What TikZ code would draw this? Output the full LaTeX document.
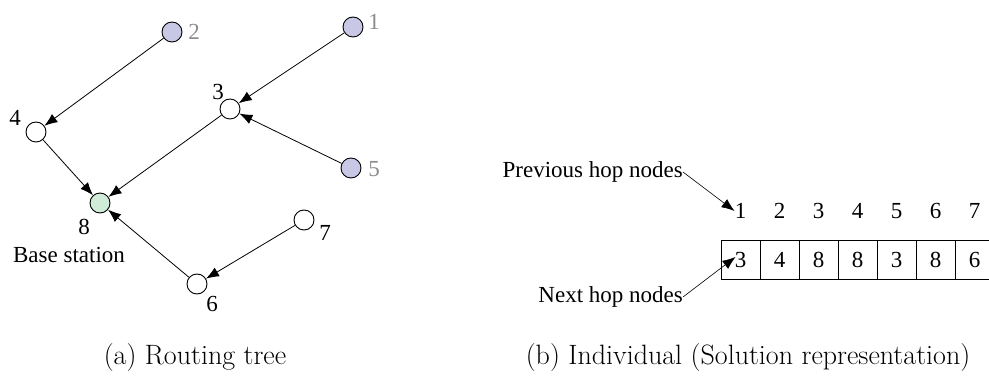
\documentclass[tikz,border=0pt]{standalone}
\usepackage{fontspec}
\setmainfont{Liberation Serif}
\newfontfamily\capfont{Latin Modern Roman}
\usetikzlibrary{arrows.meta}
\definecolor{lav}{RGB}{200,200,230}
\definecolor{mint}{RGB}{208,235,216}
\definecolor{lgray}{RGB}{140,140,140}
\begin{document}
\begin{tikzpicture}[x=1pt,y=-1pt,
  vert/.style={circle,draw,line width=0.9pt,minimum size=20pt,inner sep=0pt,fill=white},
  src/.style={vert,fill=lav},
  base/.style={vert,fill=mint},
  lab/.style={font=\fontsize{23}{25}\selectfont,inner sep=0pt},
  glab/.style={lab,text=lgray},
  txt/.style={font=\fontsize{23}{25}\selectfont,inner sep=0pt},
  arr/.style={line width=0.8pt,-{Latex[length=13pt,width=10pt]}},
  cell/.style={draw,line width=0.9pt,minimum width=39pt,minimum height=39pt,inner sep=0pt,font=\fontsize{23}{25}\selectfont},
  captext/.style={font=\capfont\fontsize{28}{30}\selectfont,inner sep=0pt}]
\useasboundingbox (0,0) rectangle (989,379);
% routing tree
\node[src] (n2) at (172,32) {};
\node[src] (n1) at (353,27) {};
\node[vert] (n3) at (230,109) {};
\node[vert] (n4) at (36,132) {};
\node[src] (n5) at (351,168) {};
\node[base] (n8) at (100,203) {};
\node[vert] (n7) at (304,220) {};
\node[vert] (n6) at (197,284) {};
\node[glab] (l2) at (194,32) {2};
\node[glab] (l1) at (374,22) {1};
\node[lab] (l3) at (218,92) {3};
\node[lab] (l4) at (15,118) {4};
\node[glab] (l5) at (374,169) {5};
\node[lab] (l8) at (84,227) {8};
\node[lab] (l7) at (325,233) {7};
\node[lab] (l6) at (212,304) {6};
\node[txt] (bs) at (69,255) {Base station};
\draw[arr] (n2) -- (n4);
\draw[arr] (n1) -- (n3);
\draw[arr] (n5) -- (n3);
\draw[arr] (n3) -- (n8);
\draw[arr] (n4) -- (n8);
\draw[arr] (n6) -- (n8);
\draw[arr] (n7) -- (n6);
% individual
\foreach \i/\v in {1/3,2/4,3/8,4/8,5/3,6/8,7/6}{
  \node[cell] (c\i) at ({740.5+39*(\i-1)},260) {\v};
  \node[lab] (p\i) at ({740.5+39*(\i-1)},211) {\i};
}
\node[txt,anchor=east] (prev) at (683,172) {Previous hop nodes};
\node[txt,anchor=east] (next) at (683,297) {Next hop nodes};
\draw[arr,line width=0.6pt] (prev.east) -- (p1.west);
\draw[arr,line width=0.6pt] (next.east) -- ([xshift=-5pt,yshift=3pt]c1.center);
% captions
\node[captext] (capa) at (195,358) {(a) Routing tree};
\node[captext] (capb) at (748,358) {(b) Individual (Solution representation)};
\end{tikzpicture}
\end{document}
